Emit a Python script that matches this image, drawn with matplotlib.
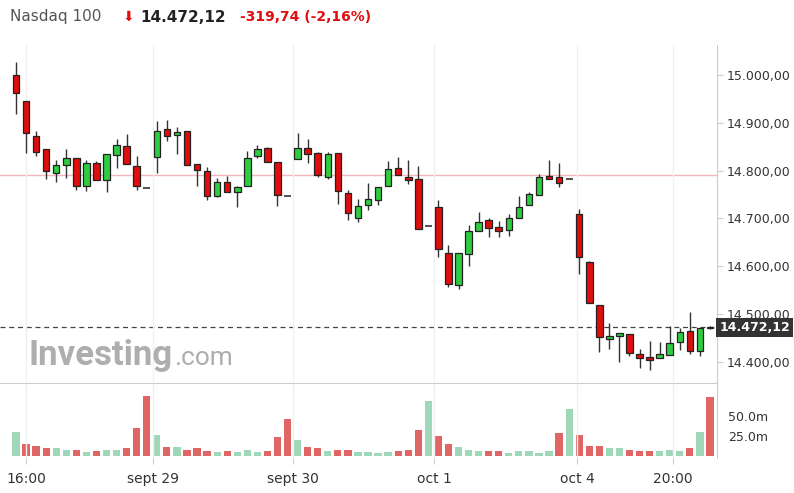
import matplotlib
matplotlib.use("Agg")
import matplotlib.pyplot as plt
import numpy as np

opens  = [15001,14946,14872,14845,14796,14812,14826,14767,14817,14781,14833,14851,14810,14763,14828,14888,14874,14883,14813,14800,
          14746,14776,14755,14767,14830,14847,14818,14747,14825,14847,14837,14787,14836,14753,14702,14728,14738,14768,14805,14787,
          14782,14684,14724,14627,14561,14626,14673,14697,14682,14676,14702,14728,14750,14789,14787,14783,14709,14609,14520,14448,
          14454,14458,14416,14410,14409,14414,14441,14464,14422,14474]
highs  = [15028,14946,14883,14845,14822,14845,14826,14822,14821,14834,14866,14877,14830,14763,14904,14905,14891,14883,14813,14808,
          14785,14788,14767,14842,14854,14850,14818,14747,14879,14866,14840,14840,14836,14759,14740,14775,14766,14820,14828,14822,
          14810,14684,14738,14644,14627,14686,14713,14701,14695,14709,14747,14756,14794,14822,14817,14783,14720,14612,14520,14482,
          14460,14458,14427,14444,14441,14475,14472,14504,14470,14476]
lows   = [14918,14836,14831,14782,14776,14784,14759,14758,14780,14755,14805,14814,14759,14763,14796,14862,14834,14812,14768,14739,
          14744,14755,14723,14767,14826,14819,14727,14747,14825,14815,14786,14783,14730,14697,14692,14718,14728,14768,14791,14773,
          14678,14684,14620,14556,14552,14600,14673,14662,14661,14664,14702,14728,14750,14783,14765,14783,14583,14524,14421,14428,
          14399,14413,14388,14383,14409,14414,14425,14416,14413,14470]
closes = [14962,14878,14838,14799,14812,14826,14767,14817,14781,14834,14854,14814,14767,14763,14883,14872,14881,14812,14801,14746,
          14776,14755,14766,14826,14845,14819,14749,14747,14847,14835,14791,14834,14757,14711,14727,14740,14766,14803,14791,14781,
          14678,14684,14637,14564,14627,14674,14693,14681,14673,14702,14724,14751,14787,14783,14775,14783,14619,14524,14453,14455,
          14460,14418,14409,14404,14416,14439,14462,14423,14472,14472]
volumes = [29,15,12,9,9,7,7,5,5.5,7,7,9,34,75,26,10.5,10.5,7,9,5.5,5,5.5,5,7,5,5.5,23,46,19.6,10.5,9,5.5,7,7,5,5,3,5,5.5,7,
           32.5,68,24.6,15,11,7,5.5,5.5,5.5,3,5.5,5.5,3,5.5,28,58,26,12,12,9,9,7,5.5,5.5,5.5,7,5.5,9,29,73]
vol_up = [1,0,0,0,1,1,0,1,0,1,1,0,0,0,1,0,1,0,0,0,1,0,1,1,1,0,0,0,1,0,0,1,0,0,1,1,1,1,0,0,
          0,1,0,0,1,1,1,0,0,1,1,1,1,1,0,1,0,0,0,1,1,0,0,0,1,1,1,0,1,0]
xtick_pos = [1.0,13.6,27.5,41.6,55.8,65.3]
xtick_labels = ["16:00","sept 29","sept 30","oct 1","oct 4","20:00"]
ytick_vals = [14400,14500,14600,14700,14800,14900,15000]
ytick_labels = ["14.400,00","14.500,00","14.600,00","14.700,00","14.800,00","14.900,00","15.000,00"]
last_price = 14472.12
ref_line = 14790

RED = "#e00d0d"; GREEN = "#2ecc40"
VRED = "#e06666"; VGREEN = "#9fd8b8"

fig = plt.figure(figsize=(7.94,4.93), dpi=100)
ax = fig.add_axes([0, 0.225, 717/794, 0.684])
axv = fig.add_axes([0, 35/493, 717/794, 75/493])

n = len(opens)
x = np.arange(n)
for i in range(n):
    o,h,l,c = opens[i],highs[i],lows[i],closes[i]
    up = c > o
    ax.vlines(x[i], l, h, color="#333333", lw=1, zorder=2)
    if abs(c-o) < 1.5:
        ax.hlines((o+c)/2, x[i]-0.35, x[i]+0.35, color="#333333", lw=1.2, zorder=3)
    else:
        ax.bar(x[i], abs(c-o), bottom=min(o,c), width=0.65, color=GREEN if up else RED,
               edgecolor="#222222", linewidth=0.9, zorder=3)

ax.axhline(ref_line, color="#f4b6bd", lw=1, zorder=1)
ax.axhline(last_price, color="#444444", lw=0.9, ls=(0,(4,3)), zorder=1)
ax.set_xlim(-1.59, 69.7)
ax.set_ylim(14358, 15063)
ax.yaxis.tick_right()
ax.set_yticks(ytick_vals)
ax.set_yticklabels(ytick_labels, fontsize=9, color="#333333")
ax.tick_params(axis="y", length=4, color="#cccccc", pad=3)
ax.set_xticks(xtick_pos)
ax.tick_params(axis="x", length=0, labelbottom=False)
ax.grid(axis="x", color="#f0f0f0", lw=1)
for s in ["top","left","bottom"]:
    ax.spines[s].set_visible(False)
ax.spines["right"].set_color("#cccccc")
ax.text(1.003, (last_price-14358)/(15063-14358), "14.472,12", transform=ax.transAxes,
        fontsize=9, color="white", fontweight="bold", va="center", ha="left",
        bbox=dict(boxstyle="square,pad=0.25", fc="#333333", ec="none"))
wm = ax.text(0.04, 0.05, "Investing", transform=ax.transAxes, fontsize=25, fontweight="bold",
        color="#a0a0a0", alpha=0.85, family="Roboto")
fig.canvas.draw()
bb = wm.get_window_extent().transformed(ax.transAxes.inverted())
ax.text(bb.x1 + 0.002, 0.05, ".com", transform=ax.transAxes, fontsize=19, color="#a0a0a0",
        alpha=0.85, family="Roboto")

axv.bar(x, volumes, width=0.72, color=[VGREEN if u else VRED for u in vol_up])
axv.set_xlim(-1.59, 69.7)
axv.set_ylim(-3, 91)
axv.yaxis.tick_right()
axv.set_yticks([25,50])
axv.set_yticklabels(["25.0m","50.0m"], fontsize=9, color="#333333")
axv.tick_params(axis="y", length=0, pad=8)
axv.set_xticks(xtick_pos)
axv.set_xticklabels(xtick_labels, fontsize=10, color="#333333")
axv.tick_params(axis="x", length=4, color="#cccccc", pad=6)
axv.grid(axis="x", color="#f0f0f0", lw=1)
for s in ["left","bottom"]:
    axv.spines[s].set_visible(False)
axv.spines["top"].set_color("#cccccc")
axv.spines["right"].set_color("#cccccc")

yt = 1-17/493
fig.text(10/794, yt, "Nasdaq 100", fontsize=11, color="#555555", va="center")
fig.text(123/794, yt, "\u2b07", fontsize=10, color=RED, va="center", family="DejaVu Sans")
fig.text(140/794, yt, "14.472,12", fontsize=11, color="#222222", fontweight="bold", va="center")
fig.text(240/794, yt, "-319,74 (-2,16%)", fontsize=10, color=RED, fontweight="bold", va="center")
fig.savefig("out.png", dpi=100)
